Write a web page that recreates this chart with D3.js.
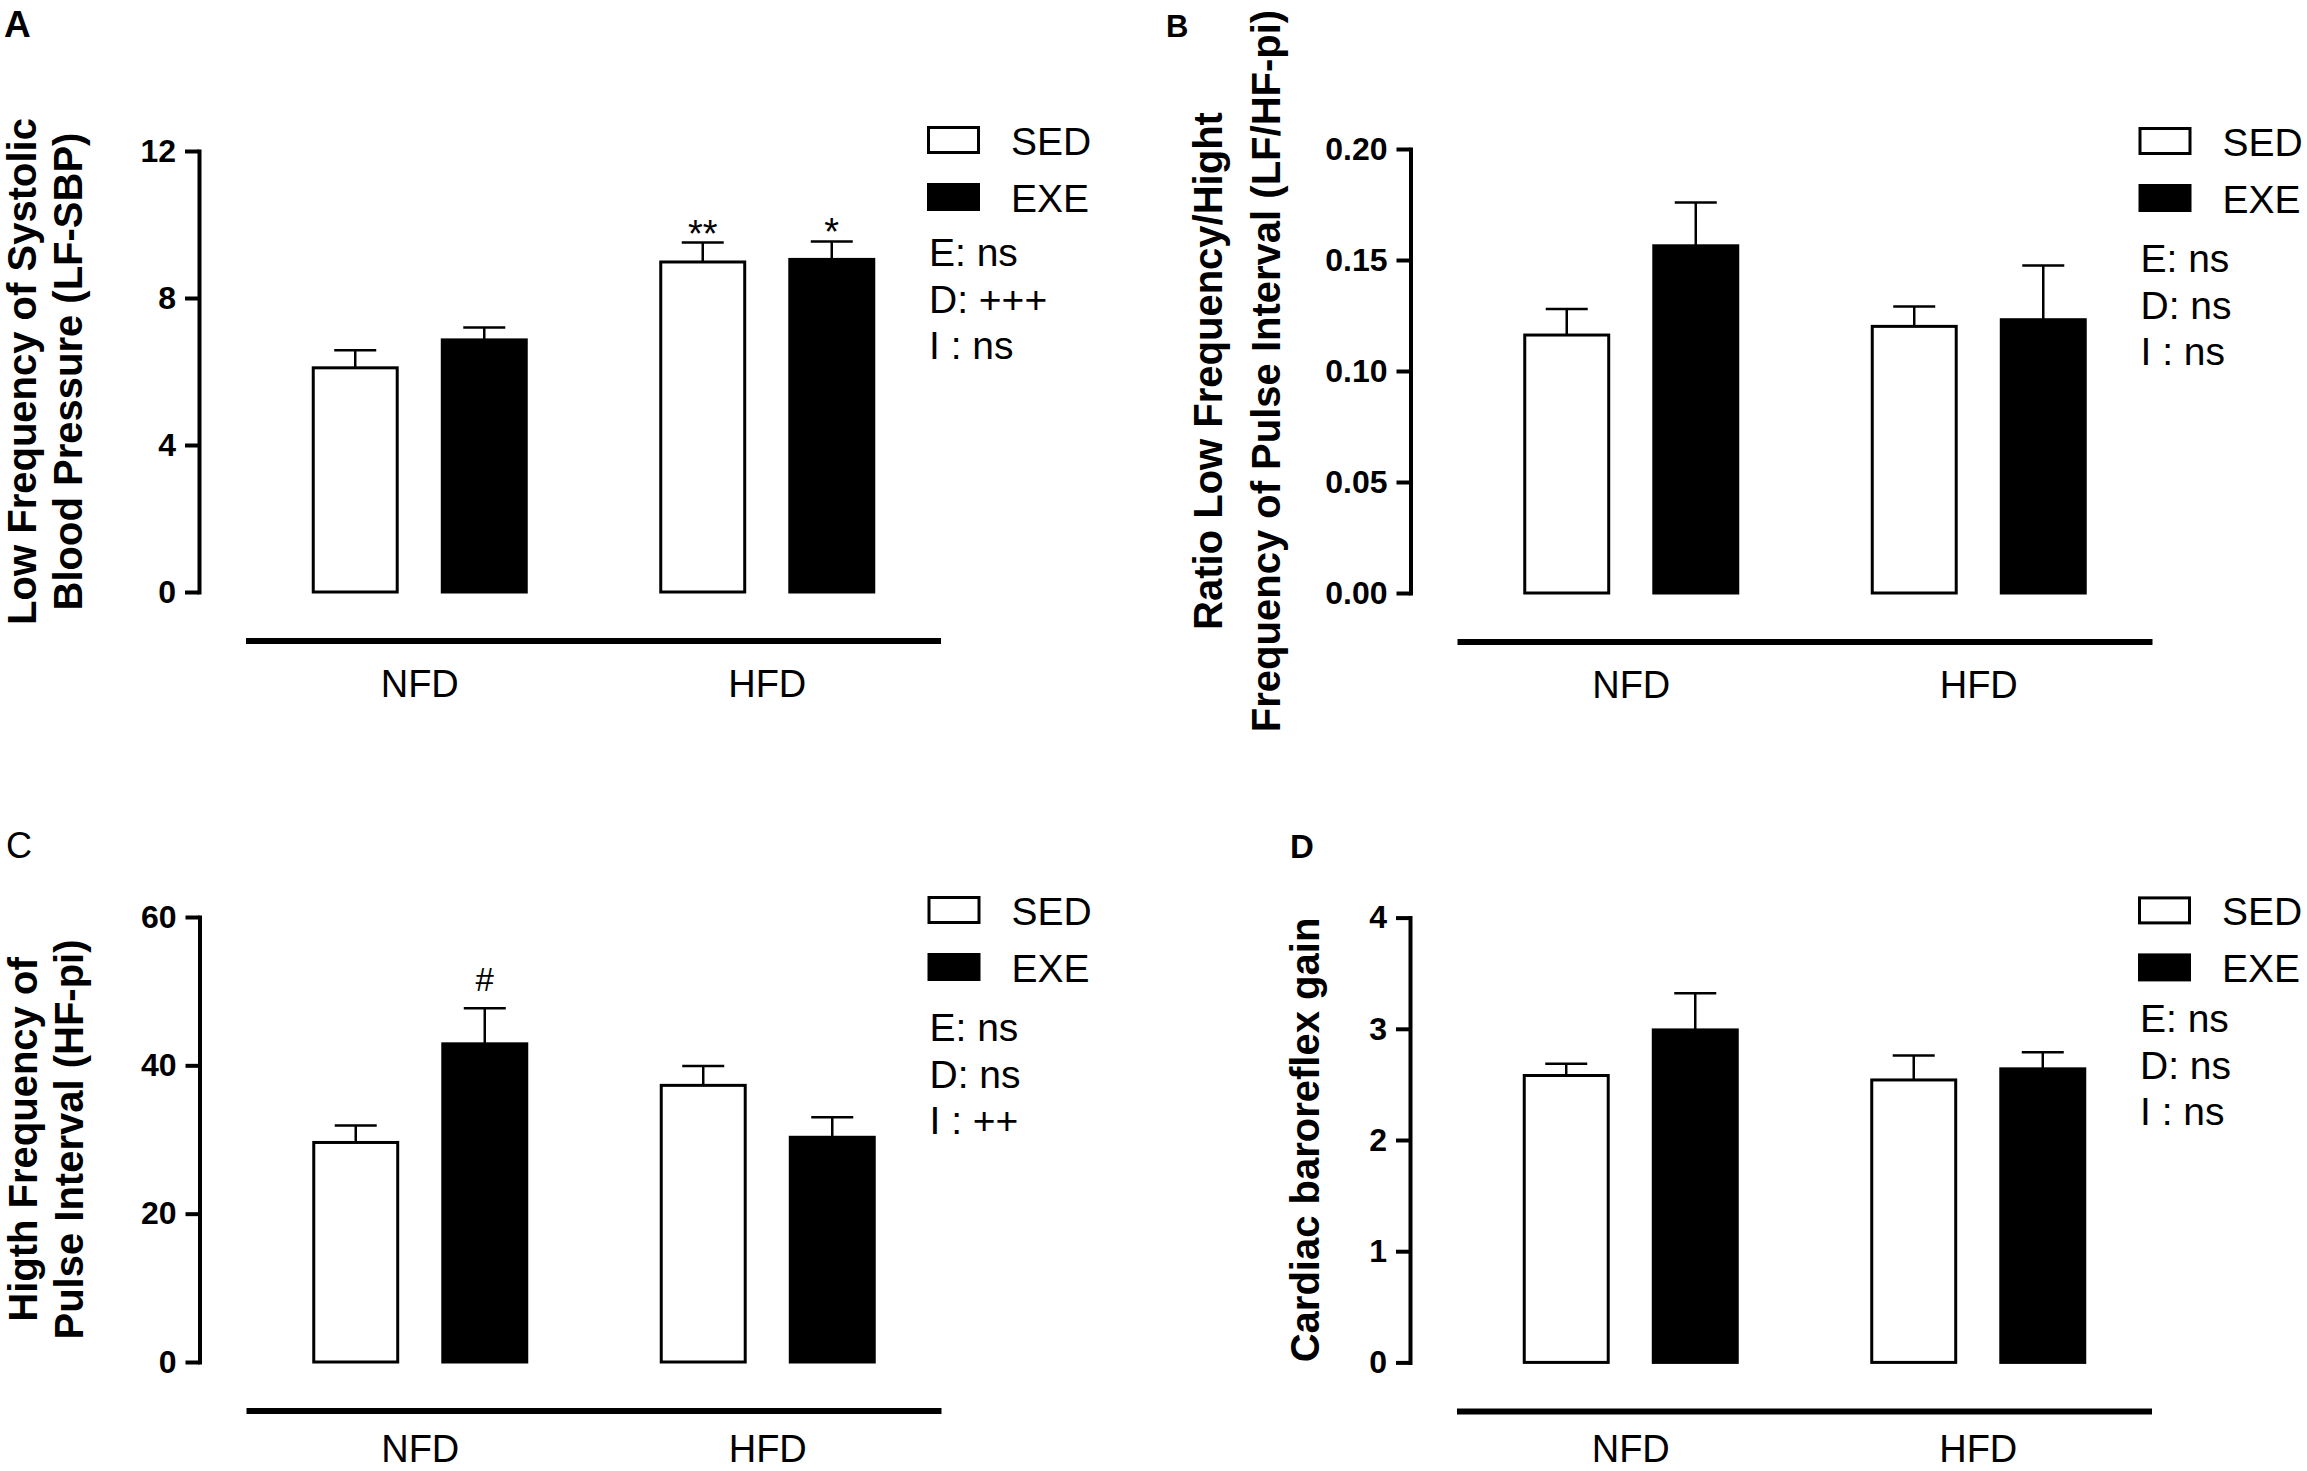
<!DOCTYPE html>
<html lang="en">
<head>
<meta charset="UTF-8">
<title>Autonomic parameters NFD / HFD</title>
<script src="https://cdnjs.cloudflare.com/ajax/libs/d3/7.8.5/d3.min.js"></script>
<style>
  body { margin: 0; background: #fff; }
  svg { display: block; }
</style>
</head>
<body>
<div id="chart"></div>
<script>
// categories
const groups = ["NFD", "HFD"];
const series = ["SED", "EXE"];

// A - low frequency of systolic blood pressure
const lfSbpSed = [6.10, 8.98];
const lfSbpSedErr = [0.48, 0.53];
const lfSbpExe = [6.86, 9.05];
const lfSbpExeErr = [0.34, 0.49];
const lfSbpTicks = [0, 4, 8, 12];
const lfSbpMarks = [["", "**"], ["", "*"]];
const lfSbpStats = ["E: ns", "D: +++", "I : ns"];

// B - LF/HF ratio of pulse interval
const ratioSed = [0.1162, 0.1201];
const ratioSedErr = [0.0117, 0.0089];
const ratioExe = [0.1564, 0.1231];
const ratioExeErr = [0.0195, 0.0244];
const ratioTicks = [0, 0.05, 0.10, 0.15, 0.20];
const ratioStats = ["E: ns", "D: ns", "I : ns"];

// C - high frequency of pulse interval
const hfSed = [29.6, 37.3];
const hfSedErr = [2.3, 2.6];
const hfExe = [42.9, 30.3];
const hfExeErr = [4.8, 2.7];
const hfTicks = [0, 20, 40, 60];
const hfMarks = [["", ""], ["#", ""]];
const hfStats = ["E: ns", "D: ns", "I : ++"];

// D - cardiac baroreflex gain
const brsSed = [2.58, 2.54];
const brsSedErr = [0.105, 0.22];
const brsExe = [2.99, 2.64];
const brsExeErr = [0.33, 0.15];
const brsTicks = [0, 1, 2, 3, 4];
const brsStats = ["E: ns", "D: ns", "I : ns"];

const noMarks = [["", ""], ["", ""]];

const panels = [
  { id: "A", label: ["Low Frequency of Systolic", "Blood Pressure (LF-SBP)"],
    values: [lfSbpSed, lfSbpExe], errs: [lfSbpSedErr, lfSbpExeErr], ticks: lfSbpTicks,
    fmt: d3.format("d"), marks: lfSbpMarks, stats: lfSbpStats },
  { id: "B", label: ["Ratio Low Frequency/Hight", "Frequency of Pulse Interval (LF/HF-pi)"],
    values: [ratioSed, ratioExe], errs: [ratioSedErr, ratioExeErr], ticks: ratioTicks,
    fmt: d3.format(".2f"), marks: noMarks, stats: ratioStats },
  { id: "C", label: ["Higth Frequency of", "Pulse Interval (HF-pi)"],
    values: [hfSed, hfExe], errs: [hfSedErr, hfExeErr], ticks: hfTicks,
    fmt: d3.format("d"), marks: hfMarks, stats: hfStats },
  { id: "D", label: ["Cardiac baroreflex gain"],
    values: [brsSed, brsExe], errs: [brsSedErr, brsExeErr], ticks: brsTicks,
    fmt: d3.format("d"), marks: noMarks, stats: brsStats }
];

// where each panel sits on the page
const layout = {
  A: { x: 199, y0: 592, yTop: 151, letter: { x: 4, y: 37, size: 37, weight: "bold" },
       labelX: [-163, -117], stats: -326, grpDy: 105 },
  B: { x: 1410.5, y0: 593, yTop: 149, letter: { x: 1166, y: 37, size: 31, weight: "bold" },
       labelX: [-189, -131], stats: -321, grpDy: 105 },
  C: { x: 199.5, y0: 1362, yTop: 917, letter: { x: 6, y: 858, size: 36, weight: "normal" },
       labelX: [-163, -117], stats: -321, grpDy: 100 },
  D: { x: 1410, y0: 1362.4, yTop: 917.6, letter: { x: 1290, y: 858, size: 33, weight: "bold" },
       labelX: [-91], stats: -330, grpDy: 100 }
};

const FONT = "'Liberation Sans', Arial, Helvetica, sans-serif";
const W = 2307, H = 1471;

const svg = d3.select("#chart").append("svg")
  .attr("width", W)
  .attr("height", H)
  .attr("font-family", FONT);

svg.append("rect").attr("width", W).attr("height", H).attr("fill", "#fff");

function drawPanel(p) {
  const L = layout[p.id];
  const g = svg.append("g").attr("transform", `translate(${L.x},0)`);

  const y = d3.scaleLinear().domain([0, d3.max(p.ticks)]).range([L.y0, L.yTop]);
  const x0 = d3.scaleBand().domain(groups).range([47, 742]).padding(0);
  const x1 = d3.scaleBand().domain(series).range([-108, 108]).paddingInner(0.326).paddingOuter(0);
  const center = gr => x0(gr) + x0.bandwidth() / 2;

  // y axis
  const axis = d3.axisLeft(y)
    .tickValues(p.ticks)
    .tickFormat(p.fmt)
    .tickSize(14)
    .tickSizeOuter(0)
    .tickPadding(9);
  const ax = g.append("g").call(axis)
    .attr("font-family", FONT)
    .attr("font-size", 32)
    .attr("font-weight", "bold");
  ax.select(".domain").attr("stroke", "#000").attr("stroke-width", 4).attr("stroke-linecap", "square");
  ax.selectAll(".tick line").attr("stroke", "#000").attr("stroke-width", 4);
  ax.selectAll(".tick text").attr("fill", "#000");

  // y label
  p.label.forEach((t, i) => {
    g.append("text")
      .attr("transform", `translate(${L.labelX[i]},${(L.y0 + L.yTop) / 2}) rotate(-90)`)
      .attr("text-anchor", "middle")
      .attr("font-size", 40)
      .attr("font-weight", "bold")
      .text(t);
  });

  // bars
  const rows = [];
  series.forEach((s, si) => groups.forEach((gr, gi) => {
    rows.push({ s, gr, v: p.values[si][gi], e: p.errs[si][gi], mark: p.marks[si][gi] });
  }));

  const bw = x1.bandwidth();
  const bars = g.selectAll("g.bar").data(rows).join("g").attr("class", "bar");

  bars.append("line")
    .attr("x1", d => center(d.gr) + x1(d.s) + bw / 2)
    .attr("x2", d => center(d.gr) + x1(d.s) + bw / 2)
    .attr("y1", d => y(d.v))
    .attr("y2", d => y(d.v + d.e))
    .attr("stroke", "#000")
    .attr("stroke-width", 2.5);
  bars.append("line")
    .attr("x1", d => center(d.gr) + x1(d.s) + bw / 2 - 21)
    .attr("x2", d => center(d.gr) + x1(d.s) + bw / 2 + 21)
    .attr("y1", d => y(d.v + d.e))
    .attr("y2", d => y(d.v + d.e))
    .attr("stroke", "#000")
    .attr("stroke-width", 2.5);

  bars.append("rect")
    .attr("x", d => center(d.gr) + x1(d.s) + 1.5)
    .attr("width", bw - 3)
    .attr("y", d => y(d.v))
    .attr("height", d => L.y0 - y(d.v))
    .attr("fill", d => d.s === "SED" ? "#fff" : "#000")
    .attr("stroke", "#000")
    .attr("stroke-width", 3);

  bars.filter(d => d.mark).append("text")
    .attr("x", d => center(d.gr) + x1(d.s) + bw / 2)
    .attr("y", d => d.mark === "#" ? y(d.v + d.e) - 17 : y(d.v + d.e) + 4)
    .attr("text-anchor", "middle")
    .attr("font-size", d => d.mark === "#" ? 33 : 38)
    .text(d => d.mark);

  // group baseline
  g.append("line")
    .attr("x1", x0.range()[0]).attr("x2", x0.range()[1])
    .attr("y1", L.y0 + 49).attr("y2", L.y0 + 49)
    .attr("stroke", "#000").attr("stroke-width", 6);

  g.selectAll("text.grp").data(groups).join("text")
    .attr("class", "grp")
    .attr("x", d => center(d))
    .attr("y", L.y0 + L.grpDy)
    .attr("text-anchor", "middle")
    .attr("font-size", 38)
    .text(d => d);

  // legend
  const leg = g.append("g").attr("transform", `translate(730,${L.y0})`);
  series.forEach((s, i) => {
    const top = i === 0 ? -466 : -409;
    leg.append("rect")
      .attr("x", -0.5).attr("y", top + 1.5)
      .attr("width", 50).attr("height", 25)
      .attr("fill", s === "SED" ? "#fff" : "#000")
      .attr("stroke", "#000").attr("stroke-width", 3);
    leg.append("text")
      .attr("x", 82).attr("y", top + 29)
      .attr("font-size", 39)
      .text(s);
  });
  p.stats.forEach((t, i) => {
    leg.append("text")
      .attr("x", 0).attr("y", L.stats + i * 46.5)
      .attr("font-size", 39)
      .text(t);
  });

  // panel letter
  svg.append("text")
    .attr("x", L.letter.x).attr("y", L.letter.y)
    .attr("font-size", L.letter.size)
    .attr("font-weight", L.letter.weight)
    .text(p.id);
}

panels.forEach(drawPanel);
</script>
</body>
</html>
